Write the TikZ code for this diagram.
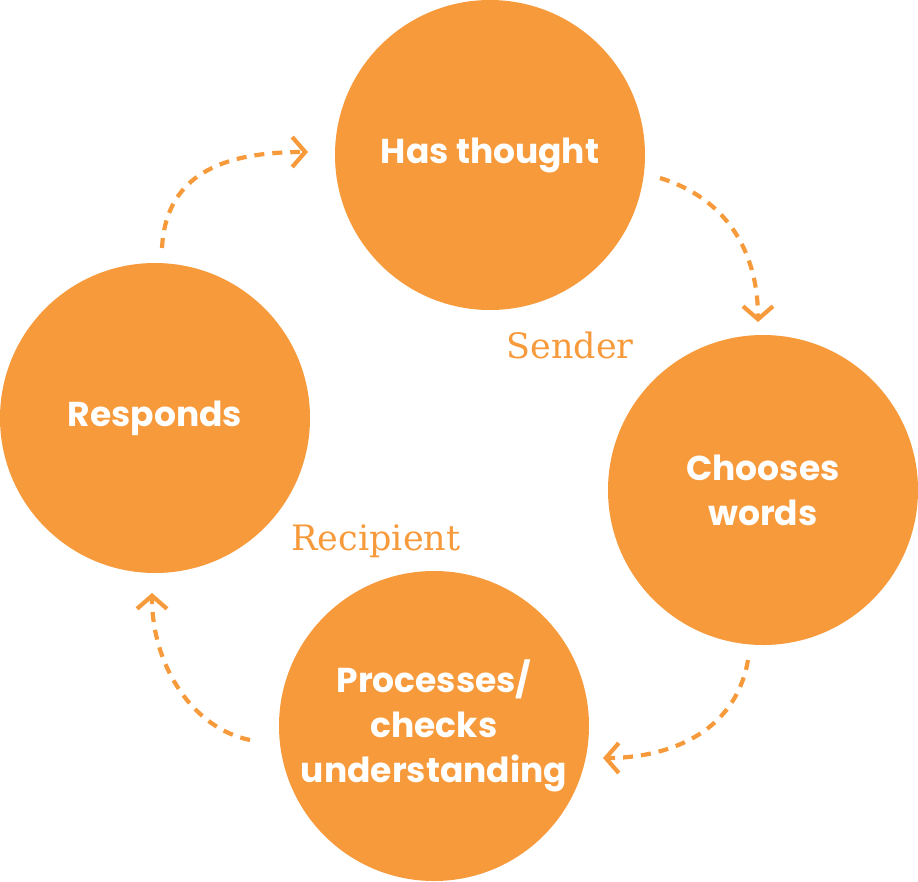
\documentclass[tikz,border=0pt]{standalone}
\usepackage{fontspec}
\setmainfont{Poppins}
\newfontfamily\labfont{DejaVu Serif}
\usetikzlibrary{arrows.meta}
\definecolor{org}{HTML}{F79A3B}
\begin{document}
\begin{tikzpicture}[x=1pt,y=-1pt,
  stage/.style={circle,fill=org,minimum size=310pt,inner sep=0pt,text=white,
     font=\fontsize{34.5}{45}\selectfont\bfseries,align=center},
  role/.style={text=org,font=\labfont\fontsize{35}{40}\selectfont,inner sep=0pt},
  flow/.style={draw=org,line width=4.2pt,dash pattern=on 10pt off 8pt,
     -{Straight Barb[length=13pt,width=30pt,line width=4.2pt]}}]
\useasboundingbox (0,0) rectangle (918,881);
\node[stage] (think) at (490,155) {Has thought};
\node[stage] (words) at (763,490) {Chooses\\words};
\node[stage] (resp) at (155,418) {Responds};
\node[stage] (proc) at (434,726) {Processes/\\checks\\understanding};
\node[role] (send) at (570,345) {Sender};
\node[role] (recp) at (376,541) {Recipient};
\coordinate (a1s) at (162,248); \coordinate (a1e) at (308,152);
\coordinate (a2s) at (660,178); \coordinate (a2e) at (758,322);
\coordinate (a3s) at (748,660); \coordinate (a3e) at (603,758);
\coordinate (a4s) at (250,740); \coordinate (a4e) at (152,593);
\draw[flow] (a1s) .. controls (166,170) and (230,152) .. (a1e);
\draw[flow] (a2s) .. controls (725,198) and (758,250) .. (a2e);
\draw[flow] (a3s) .. controls (735,735) and (665,758) .. (a3e);
\draw[flow] (a4s) .. controls (192,728) and (152,665) .. (a4e);
\end{tikzpicture}
\end{document}
